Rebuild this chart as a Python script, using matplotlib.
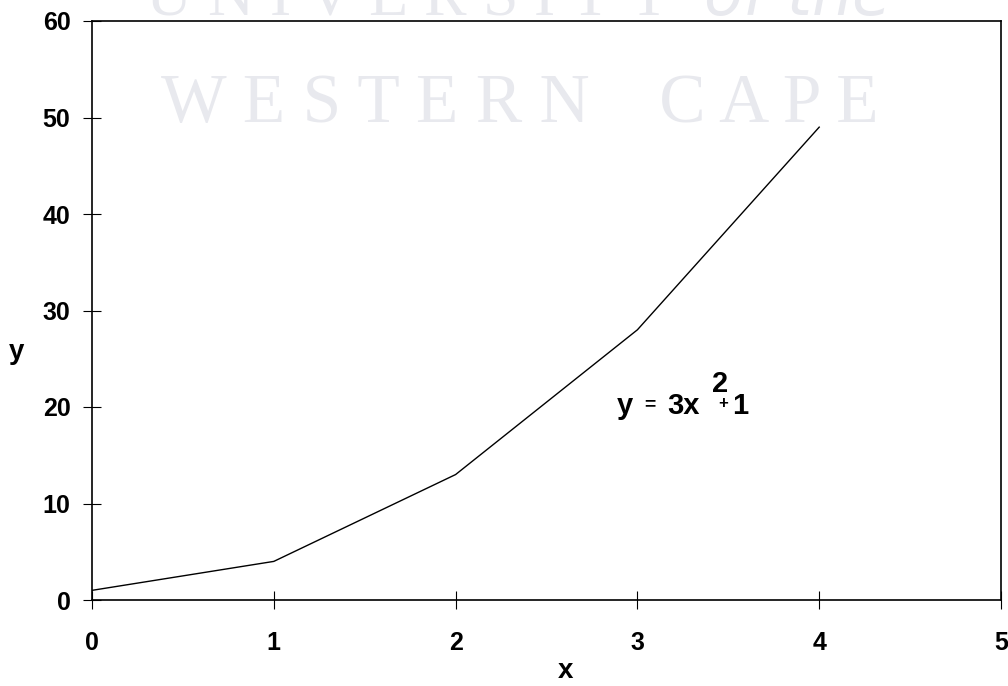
import matplotlib
matplotlib.use("Agg")
import matplotlib.pyplot as plt

x_vals = [0, 1, 2, 3, 4]
y_vals = [1, 4, 13, 28, 49]
x_ticks = [0, 1, 2, 3, 4, 5]
y_ticks = [0, 10, 20, 30, 40, 50, 60]

plt.rcParams['font.family'] = ['Liberation Sans', 'DejaVu Sans']

fig = plt.figure(figsize=(10.08, 6.86), dpi=100)
ax = fig.add_axes([92/1008, 1-600/686, (1001-92)/1008, (600-21)/686])

# watermark (cut off at the top edge, as in the scanned reference)
fig.text(520/1008, 1-105/686, "W E S T E R N    C A P E", family='Liberation Serif',
         fontsize=50, color='#e8e9ee', ha='center', va='center', zorder=0)
fig.text(518/1008, 1-0/686, "U N I V E R S I T Y  $\\it{of\\ the}$", family='Liberation Serif',
         fontsize=46, color='#e8e9ee', ha='center', va='center', zorder=0)

ax.patch.set_alpha(0)
ax.plot(x_vals, y_vals, color='black', lw=1.0)
ax.set_xlim(0, 5)
ax.set_ylim(0, 60)
ax.set_xticks(x_ticks)
ax.set_yticks(y_ticks)
ax.tick_params(direction='inout', length=13, width=0.8, labelsize=18)
ax.tick_params(axis='x', pad=16)
ax.tick_params(axis='y', pad=9)
for lab in ax.get_xticklabels() + ax.get_yticklabels():
    lab.set_fontweight('bold')
for s in ax.spines.values():
    s.set_linewidth(1.2)

fig.text(565/1008, 1-671/686, "x", fontsize=20, fontweight='bold', ha='center', va='center')
fig.text(17/1008, 1-352/686, "y", fontsize=20, fontweight='bold', ha='center', va='center')

fs = 21
ax.text(2.885, 19.3, "y", fontsize=fs, fontweight='bold', ha='left', va='baseline')
ax.text(3.035, 19.8, "=", fontsize=14, fontweight='bold', ha='left', va='baseline')
ax.text(3.163, 19.3, "3x", fontsize=fs, fontweight='bold', ha='left', va='baseline')
ax.text(3.412, 21.6, "2", fontsize=fs, fontweight='bold', ha='left', va='baseline')
ax.text(3.447, 20.35, "+", fontsize=12, fontweight='bold', ha='left', va='center')
ax.text(3.522, 19.3, "1", fontsize=fs, fontweight='bold', ha='left', va='baseline')

fig.savefig("out.png", dpi=100)
